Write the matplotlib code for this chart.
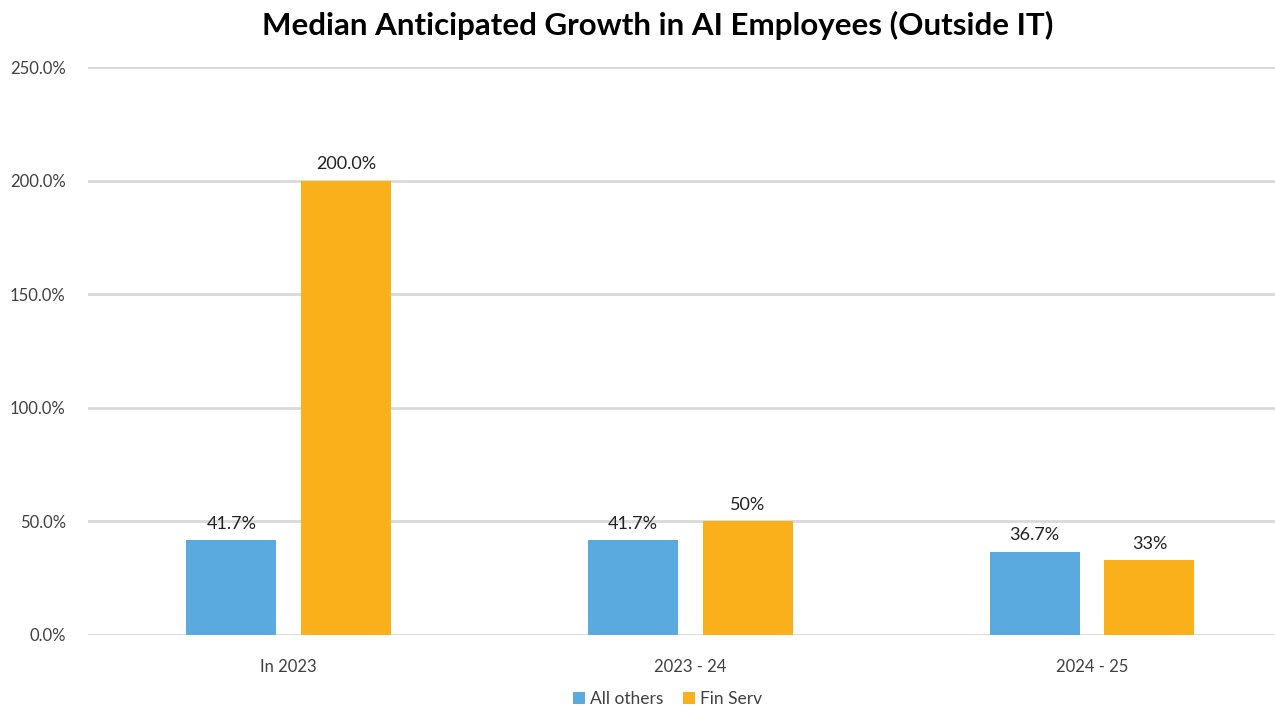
import numpy as np
import matplotlib.pyplot as plt

plt.rcParams['font.family'] = ['Lato', 'DejaVu Sans']

categories = ["In 2023", "2023 - 24", "2024 - 25"]
all_others = [41.7, 41.7, 36.7]
fin_serv = [200.0, 50, 33]
all_others_labels = ["41.7%", "41.7%", "36.7%"]
fin_serv_labels = ["200.0%", "50%", "33%"]
yticks = [0, 50, 100, 150, 200, 250]

blue = "#5BAADF"
orange = "#FAB01A"
text_col = "#404040"

fig = plt.figure(figsize=(12.75, 7.06), dpi=100)
ax = fig.add_axes([0.069, 0.1006, 0.945, 0.8044])

x = np.arange(len(categories))
w = 0.224
b1 = ax.bar(x - 0.143, all_others, w, color=blue, label="All others", zorder=3)
b2 = ax.bar(x + 0.143, fin_serv, w, color=orange, label="Fin Serv", zorder=3)

for bars, labels in ((b1, all_others_labels), (b2, fin_serv_labels)):
    for rect, lab in zip(bars, labels):
        ax.annotate(lab, (rect.get_x() + rect.get_width() / 2, rect.get_height()),
                    xytext=(0, 6), textcoords="offset points",
                    ha="center", va="bottom", fontsize=13, color="#222222")

ax.set_ylim(0, 250)
ax.set_xlim(-0.5, 2.5)
ax.set_yticks(yticks)
ax.set_yticklabels([f"{v:.1f}%" for v in yticks], fontsize=12, color=text_col)
ax.set_xticks(x)
ax.set_xticklabels(categories, fontsize=12, color=text_col)
ax.tick_params(axis="both", length=0)
ax.tick_params(axis="y", pad=16)
ax.tick_params(axis="x", pad=17)
ax.grid(axis="y", color="#d9d9d9", linewidth=2, zorder=0)
for s in ax.spines.values():
    s.set_visible(False)

fig.suptitle("Median Anticipated Growth in AI Employees (Outside IT)",
             x=0.516, y=0.985, fontsize=22.5, fontweight="bold", color="black")

ax.legend(loc="lower center", bbox_to_anchor=(0.481, -0.155), ncol=2, frameon=False,
          fontsize=12.5, labelcolor=text_col, handlelength=0.7, handleheight=0.7,
          handletextpad=0.3, columnspacing=1.1)

fig.savefig("out.png", dpi=100)
